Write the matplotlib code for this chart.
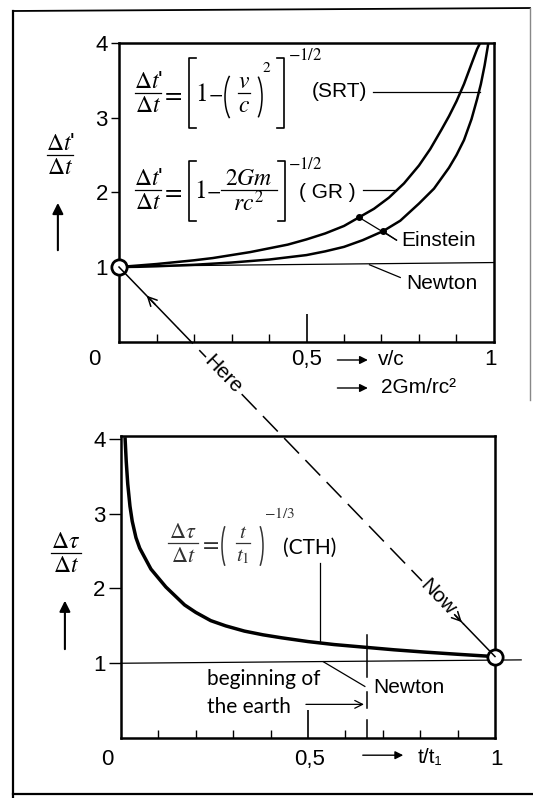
import matplotlib
matplotlib.use("Agg")
import matplotlib.pyplot as plt
from matplotlib.lines import Line2D
from matplotlib.patches import FancyArrowPatch, Arc
import numpy as np

plt.rcParams["font.family"] = ["Liberation Sans", "DejaVu Sans"]
plt.rcParams["mathtext.fontset"] = "stix"

# upper panel: dilation curves
gr_x = [0.0, 0.05, 0.1, 0.15, 0.2, 0.25, 0.3, 0.35, 0.4, 0.45, 0.5, 0.55, 0.6, 0.64,
        0.68, 0.72, 0.76, 0.8, 0.83, 0.86, 0.88, 0.9, 0.92, 0.94, 0.955, 0.963]
gr_y = [1.0, 1.02, 1.04, 1.065, 1.09, 1.12, 1.16, 1.20, 1.25, 1.30, 1.37, 1.45, 1.55, 1.665,
        1.78, 1.93, 2.12, 2.36, 2.58, 2.84, 3.02, 3.22, 3.45, 3.72, 3.92, 4.0]
srt_x = [0.0, 0.05, 0.1, 0.15, 0.2, 0.25, 0.3, 0.35, 0.4, 0.45, 0.5, 0.55, 0.6, 0.65,
         0.704, 0.75, 0.8, 0.84, 0.88, 0.9, 0.92, 0.94, 0.955, 0.965, 0.975, 0.985]
srt_y = [1.0, 1.003, 1.01, 1.02, 1.03, 1.045, 1.06, 1.08, 1.10, 1.13, 1.16, 1.21, 1.27, 1.36,
         1.48, 1.62, 1.85, 2.05, 2.33, 2.5, 2.7, 2.98, 3.25, 3.45, 3.7, 4.0]
newton_top_x = [0.0, 1.0]
newton_top_y = [1.01, 1.06]

# lower panel: cosmic time curve
cth_x = [0.011, 0.014, 0.018, 0.024, 0.03, 0.04, 0.05, 0.065, 0.08, 0.1, 0.12, 0.145, 0.17,
         0.2, 0.24, 0.28, 0.33, 0.38, 0.43, 0.5, 0.57, 0.65, 0.73, 0.81, 0.9, 0.996]
cth_y = [4.0, 3.7, 3.4, 3.1, 2.9, 2.68, 2.54, 2.40, 2.26, 2.14, 2.02, 1.90, 1.78,
         1.68, 1.57, 1.50, 1.43, 1.38, 1.34, 1.29, 1.25, 1.215, 1.18, 1.15, 1.12, 1.09]
newton_bot_x = [0.0, 1.07]
newton_bot_y = [1.0, 1.045]
earth_t = 0.657

y_ticks = [1, 2, 3, 4]
y_ticklabels = ["1", "2", "3", "4"]
x_minor = [0.1, 0.2, 0.3, 0.4, 0.6, 0.7, 0.8, 0.9]

W, H = 533, 798
fig = plt.figure(figsize=(W / 100, H / 100), dpi=100)
fig.patch.set_facecolor("white")

ax1 = fig.add_axes([119 / W, 1 - 341.7 / H, 375 / W, 298.7 / H])
ax2 = fig.add_axes([121 / W, 1 - 738 / H, 374 / W, 302 / H])

fs = 15
for ax, ylim, tl in [(ax1, (0, 4), 6), (ax2, (0, 4.04), 9)]:
    ax.set_xlim(0, 1)
    ax.set_ylim(*ylim)
    for s in ax.spines.values():
        s.set_linewidth(1.8)
    ax.set_yticks(y_ticks)
    ax.set_yticklabels(y_ticklabels, fontsize=16)
    ax.tick_params(axis="y", direction="out", length=tl, width=1, pad=2)
    ax.set_xticks([0.5])
    ax.set_xticks(x_minor, minor=True)
    ax.tick_params(axis="x", which="major", direction="in", length=20, width=1.2, labelbottom=False)
    ax.tick_params(axis="x", which="minor", direction="in", length=6, width=1)


# helpers for hand-set formulas, positions in pixels from the top-left corner
def txt(x, y, s, size, ha="center", va="center", **kw):
    fig.text(x / W, 1 - y / H, s, fontsize=size, ha=ha, va=va, **kw)


def pline(xs, ys, lw=1.0, color="black"):
    fig.add_artist(Line2D([x / W for x in xs], [1 - y / H for y in ys],
                          transform=fig.transFigure, color=color, lw=lw))


def frac(cx, ybar, half, num, den, size, color="black"):
    txt(cx, ybar - 11, num, size, color=color)
    pline([cx - half, cx + half], [ybar, ybar], lw=0.9, color=color)
    txt(cx, ybar + 13, den, size, color=color)


def bracket(x, y0, y1, side, color="black"):
    s = 7 if side == "[" else -7
    pline([x + s, x, x, x + s], [y0, y0, y1, y1], lw=1.2, color=color)


def paren(x0, x1, y0, y1, side, color="black"):
    w, h = 2.2 * (x1 - x0), (y1 - y0) * 1.08
    if side == "(":
        c, t1, t2 = (x0 + w / 2, (y0 + y1) / 2), 118, 242
    else:
        c, t1, t2 = (x1 - w / 2, (y0 + y1) / 2), -62, 62
    fig.add_artist(Arc((c[0] / W, 1 - c[1] / H), w / W, h / H, theta1=t1, theta2=t2,
                       transform=fig.transFigure, color=color, lw=1.1))


# SRT formula
frac(148, 93, 13, r"$\Delta t$'", r"$\Delta t$", 17)
txt(172, 94, r"$=$", 18)
bracket(189, 58, 128, "[")
txt(201, 94, r"$1$", 18)
txt(216, 94, r"$-$", 15)
paren(225, 236, 72, 122, "(")
frac(244, 93, 6, r"$v$", r"$c$", 17)
paren(252, 262, 72, 122, ")")
txt(267, 68, r"$2$", 11)
bracket(284, 58, 128, "]")
txt(288, 55, r"$-1/2$", 12, ha="left")

# GR formula
frac(148, 190, 13, r"$\Delta t$'", r"$\Delta t$", 17)
txt(172, 191, r"$=$", 18)
bracket(189, 161, 221, "[")
txt(200, 191, r"$1$", 18)
txt(214, 191, r"$-$", 15)
frac(249, 190, 28, r"$2Gm$", r"$rc^2$", 17)
bracket(285, 161, 221, "]")
txt(288, 164, r"$-1/2$", 12, ha="left")

# CTH formula
grey = "#333333"
frac(183, 543, 15, r"$\Delta\tau$", r"$\Delta t$", 16, color=grey)
txt(209, 544, r"$=$", 17, color=grey)
paren(222, 231, 520, 572, "(", color=grey)
frac(243, 543, 7, r"$t$", r"$t_1$", 15, color=grey)
paren(254, 263, 520, 572, ")", color=grey)
txt(264, 514, r"$-1/3$", 11, ha="left", color=grey)

# axis labels on the left
frac(60, 155, 13, r"$\Delta t$'", r"$\Delta t$", 17)
frac(66, 553, 15, r"$\Delta\tau$", r"$\Delta t$", 17)

arrow_kw = dict(arrowstyle="-|>", color="black", lw=1, mutation_scale=12)

# ---- upper panel
ax1.plot(gr_x, gr_y, color="black", lw=1.8)
ax1.plot(srt_x, srt_y, color="black", lw=1.8)
ax1.plot(newton_top_x, newton_top_y, color="black", lw=0.9)

ax1.text(0.513, 3.35, "(SRT)", fontsize=fs, va="center", ha="left")
ax1.plot([0.676, 0.963], [3.35, 3.35], color="black", lw=0.9)
ax1.text(0.481, 2.0, "( GR )", fontsize=fs, va="center", ha="left")
ax1.plot([0.65, 0.74], [2.03, 2.03], color="black", lw=0.9)

ax1.plot([0.640, 0.704], [1.665, 1.48], "o", color="black", ms=4)
ax1.plot([0.640, 0.740], [1.665, 1.36], color="black", lw=0.9)
ax1.plot([0.704, 0.740], [1.48, 1.36], color="black", lw=0.9)
ax1.text(0.754, 1.36, "Einstein", fontsize=fs, va="center", ha="left")

ax1.plot([0.668, 0.75], [1.03, 0.86], color="black", lw=0.9)
ax1.text(0.765, 0.78, "Newton", fontsize=fs, va="center", ha="left")

ax1.text(-0.067, -0.245, "0", fontsize=16, ha="center", va="center", clip_on=False)
ax1.text(0.5, -0.245, "0,5", fontsize=16, ha="center", va="center")
ax1.text(0.99, -0.245, "1", fontsize=16, ha="center", va="center")
ax1.annotate("", xy=(0.671, -0.245), xytext=(0.575, -0.245), arrowprops=arrow_kw, annotation_clip=False)
ax1.text(0.69, -0.245, "v/c", fontsize=fs, ha="left", va="center")
ax1.annotate("", xy=(0.671, -0.62), xytext=(0.575, -0.62), arrowprops=arrow_kw, annotation_clip=False)
ax1.text(0.698, -0.62, "2Gm/rc²", fontsize=fs, ha="left", va="center")

ax1.annotate("", xy=(-0.163, 0.474), xytext=(-0.163, 0.297), xycoords="axes fraction",
             arrowprops=dict(arrowstyle="-|>", color="black", lw=1.5, mutation_scale=16),
             annotation_clip=False)

# ---- lower panel
ax2.plot(cth_x, cth_y, color="black", lw=2.5)
ax2.plot(newton_bot_x, newton_bot_y, color="black", lw=0.9, clip_on=False)

ax2.text(0.433, 2.54, "(CTH)", fontsize=fs, va="center", ha="left", family=["Lato", "DejaVu Sans"])
ax2.plot([0.532, 0.532], [2.34, 1.29], color="black", lw=0.9)

for y0, y1 in [(0.0, 0.24), (0.40, 0.62), (0.82, 1.38)]:
    ax2.plot([earth_t, earth_t], [y0, y1], color="black", lw=1.1)
ax2.text(0.23, 0.79, "beginning of", fontsize=fs, va="center", ha="left", family=["Lato", "DejaVu Sans"])
ax2.text(0.23, 0.42, "the earth", fontsize=fs, va="center", ha="left", family=["Lato", "DejaVu Sans"])
ax2.annotate("", xy=(earth_t, 0.45), xytext=(0.487, 0.45),
             arrowprops=dict(arrowstyle="->", color="black", lw=0.9, mutation_scale=14))

ax2.plot([0.541, 0.652], [1.02, 0.69], color="black", lw=0.9)
ax2.text(0.674, 0.67, "Newton", fontsize=fs, va="center", ha="left")

ax2.text(-0.037, -0.29, "0", fontsize=16, ha="center", va="center", clip_on=False)
ax2.text(0.503, -0.29, "0,5", fontsize=16, ha="center", va="center")
ax2.text(1.005, -0.29, "1", fontsize=16, ha="center", va="center")
ax2.annotate("", xy=(0.762, -0.23), xytext=(0.639, -0.23), arrowprops=arrow_kw, annotation_clip=False)
ax2.text(0.794, -0.26, "t/t₁", fontsize=fs, ha="left", va="center")

ax2.annotate("", xy=(-0.15, 0.464), xytext=(-0.15, 0.285), xycoords="axes fraction",
             arrowprops=dict(arrowstyle="-|>", color="black", lw=1.5, mutation_scale=16),
             annotation_clip=False)

# ---- "Here" -> "Now" connector between the two circles
p1 = ax1.transData.transform((0.0, 1.0))
p2 = ax2.transData.transform((1.0, 1.09))
L = np.hypot(*(p2 - p1))
u = (p2 - p1) / L
P = lambda d: p1 + u * d
ang = np.degrees(np.arctan2(u[1], u[0]))


def seg(d0, d1, **kw):
    a, b = P(d0), P(d1)
    fig.add_artist(Line2D([a[0], b[0]], [a[1], b[1]], transform=None, color="black", lw=1.1, **kw))


seg(0, 85)
seg(85, L - 45, dashes=(14, 6))
seg(L - 45, L)
for d, word in [(150, "Here"), (L - 82, "Now")]:
    fig.text(*P(d), word, transform=None, rotation=ang, rotation_mode="anchor",
             ha="center", va="center", fontsize=fs,
             bbox=dict(facecolor="white", edgecolor="none", pad=1.5))
for d_head, d_tail in [(37, 55), (L - 45, L - 60)]:
    fig.add_artist(FancyArrowPatch(P(d_tail), P(d_head), transform=None, arrowstyle="->",
                                   color="black", lw=1.1, mutation_scale=16))

ax1.plot([0.0], [1.0], "o", ms=11, mfc="white", mec="black", mew=2, clip_on=False, zorder=10)
ax2.plot([1.0], [1.09], "o", ms=11, mfc="white", mec="black", mew=2, clip_on=False, zorder=10)

# outer frame of the scanned figure
pline([13, 13], [11, 798], lw=1.6)
pline([13, 530], [11, 8], lw=1.3)
pline([530, 530], [8, 400], lw=1.0, color="#888888")
pline([13, 533], [794, 794], lw=1.6)

fig.savefig("out.png", dpi=100)
